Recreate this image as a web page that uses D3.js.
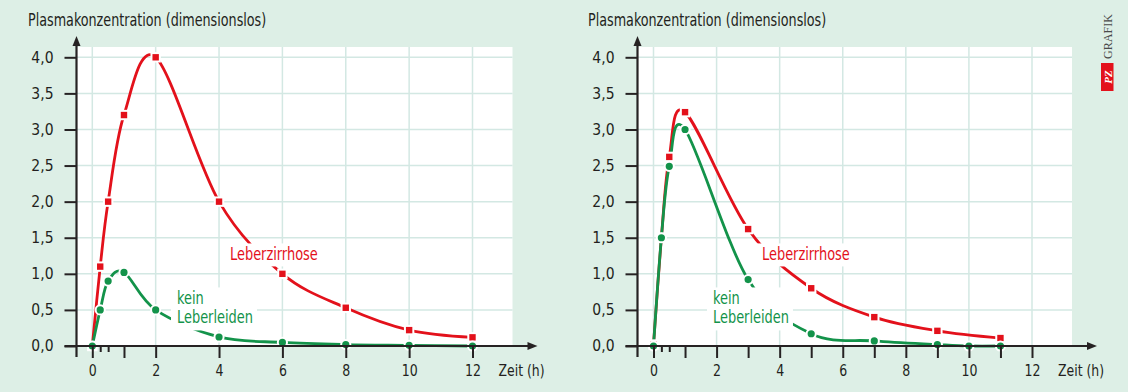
<!DOCTYPE html>
<html><head><meta charset="utf-8">
<script src="https://cdn.jsdelivr.net/npm/d3@7"></script>
<style>
body{margin:0;background:#ddefe6}
svg{display:block}
</style></head><body>
<svg id="c" width="1128" height="392"></svg>
<script>
// ---------- data ----------
const titleText = "Plasmakonzentration (dimensionslos)";
const xAxisLabel = "Zeit (h)";
const seriesNames = ["Leberzirrhose", "kein", "Leberleiden"];
const yTicks = [0, 0.5, 1, 1.5, 2, 2.5, 3, 3.5, 4];
const xGridHours = [0, 2, 4, 6, 8, 10, 12];
const xTickLabels = [0, 2, 4, 6, 8, 10, 12];
const minorTicks = [0.25, 0.5];
const leftMajorTicks = [0, 1, 2, 4, 6, 8, 10, 12];
const rightMajorTicks = [0, 1, 2, 3, 4, 5, 6, 7, 8, 9, 10, 11, 12];

// left panel
const leftHours = [0, 0.25, 0.5, 1, 2, 4, 6, 8, 10, 12];
const leftZirrhose = [0, 1.1, 2.0, 3.2, 4.0, 2.0, 1.0, 0.53, 0.22, 0.12];
const leftGesund = [0, 0.5, 0.9, 1.02, 0.5, 0.125, 0.05, 0.02, 0.01, 0.0];

// right panel
const rightHoursZ = [0, 0.25, 0.5, 1, 3, 5, 7, 9, 11];
const rightZirrhose = [0.02, 1.5, 2.62, 3.24, 1.62, 0.8, 0.4, 0.21, 0.11];
const rightHoursG = [0, 0.25, 0.5, 1, 3, 5, 7, 9, 10, 11];
const rightGesund = [0, 1.5, 2.49, 3.0, 0.92, 0.17, 0.07, 0.02, 0.0, 0.0];

// ---------- style ----------
const FONT = '"DejaVu Sans Condensed","Liberation Sans",sans-serif';
const RED = "#e3111b", GREEN = "#13934a", AXIS = "#262223", GRID = "#d3e8e3", BG = "#ddefe6", INK = "#231f20";
const svg = d3.select("#c");
svg.append("rect").attr("width", 1128).attr("height", 392).attr("fill", BG);

function ctext(parent, x, y, str, size, color, sx) {
  return parent.append("text").attr("transform", `translate(${x},${y}) scale(${sx},1)`)
    .style("font-family", FONT).attr("font-size", size).attr("fill", color).text(str);
}

function panel(cfg) {
  const g = svg.append("g");
  const x = d3.scaleLinear().domain([0, 12]).range([cfg.x0, cfg.x12]);
  const y = d3.scaleLinear().domain([0, 4]).range([346, 57.3]);
  const ax = cfg.axisX, right = cfg.x12 + 40, top = 47;

  ctext(g, cfg.titleX, 26, titleText, 17.5, INK, 0.81);

  g.append("rect").attr("x", ax).attr("y", top).attr("width", right - ax).attr("height", y(0) - top).attr("fill", "#fff");
  g.selectAll(".hg").data(yTicks.slice(1)).join("line")
    .attr("x1", ax).attr("x2", right).attr("y1", d => y(d)).attr("y2", d => y(d))
    .attr("stroke", GRID).attr("stroke-width", 1.5);
  g.selectAll(".vg").data(xGridHours).join("line")
    .attr("x1", d => x(d)).attr("x2", d => x(d)).attr("y1", top).attr("y2", y(0))
    .attr("stroke", GRID).attr("stroke-width", 1.5);

  const line = d3.line().x(d => x(d[0])).y(d => y(d[1])).curve(d3.curveCatmullRom.alpha(0));
  const zData = d3.zip(cfg.hz, cfg.z), gData = d3.zip(cfg.hg, cfg.gs);
  g.append("path").datum(zData).attr("d", line).attr("fill", "none").attr("stroke", RED).attr("stroke-width", 2.8);
  g.append("path").datum(gData).attr("d", line).attr("fill", "none").attr("stroke", GREEN).attr("stroke-width", 2.8);

  // labels with white backing
  const boxLayer = g.append("g");
  const mk = g.append("g");
  const textLayer = g.append("g");
  const SX = 0.8;
  const labels = [
    {t: seriesNames[0], x: cfg.zLabX, y: 260, c: RED},
    {t: seriesNames[1], x: cfg.gLabX, y: 304, c: GREEN},
    {t: seriesNames[2], x: cfg.gLabX, y: 323, c: GREEN}
  ];
  const texts = labels.map(l => ctext(textLayer, l.x, l.y, l.t, 18, l.c, SX));
  const bb = texts.map((t, i) => { const b = t.node().getBBox(); return {x: labels[i].x + b.x * SX, y: labels[i].y + b.y, w: b.width * SX, h: b.height}; });
  boxLayer.append("rect").attr("x", bb[0].x - 5).attr("y", bb[0].y).attr("width", bb[0].w + 10).attr("height", bb[0].h + 2).attr("fill", "#fff");
  const gw = Math.max(bb[1].w, bb[2].w);
  boxLayer.append("rect").attr("x", bb[1].x - 6).attr("y", bb[1].y).attr("width", gw + 10).attr("height", bb[2].y + bb[2].h - bb[1].y + 3).attr("fill", "#fff");

  // markers
  mk.selectAll(".sq").data(zData).join("rect")
    .attr("x", d => x(d[0]) - 4.2).attr("y", d => y(d[1]) - 4.2).attr("width", 8.4).attr("height", 8.4)
    .attr("fill", RED).attr("stroke", "#fff").attr("stroke-width", 2);
  mk.selectAll(".ci").data(gData).join("circle")
    .attr("cx", d => x(d[0])).attr("cy", d => y(d[1])).attr("r", 4.6)
    .attr("fill", GREEN).attr("stroke", "#fff").attr("stroke-width", 2);

  // axes
  const fmt = d => d3.format(".1f")(d).replace(".", ",");
  const yA = g.append("g").attr("transform", `translate(${ax},0)`)
    .call(d3.axisLeft(y).tickValues(yTicks).tickSize(12).tickPadding(11).tickFormat(fmt));
  const xA = g.append("g").attr("transform", `translate(0,${y(0)})`)
    .call(d3.axisBottom(x).tickValues(cfg.major).tickSize(12).tickPadding(7).tickFormat(d => xTickLabels.includes(d) ? d : ""));
  const xm = g.append("g").attr("transform", `translate(0,${y(0)})`)
    .call(d3.axisBottom(x).tickValues(minorTicks).tickSize(6).tickFormat(""));
  [yA, xA, xm].forEach(a => {
    a.select(".domain").remove();
    a.selectAll("line").attr("stroke", AXIS).attr("stroke-width", 2);
    a.selectAll("text").attr("font-size", 15.5).attr("fill", INK).style("font-family", FONT);
  });
  xA.selectAll("text").attr("transform", "scale(0.9,1)");
  // axis lines with arrows
  g.append("line").attr("x1", ax).attr("x2", ax).attr("y1", 357).attr("y2", 44).attr("stroke", AXIS).attr("stroke-width", 2.2);
  g.append("path").attr("d", `M${ax},36 L${ax - 4},46 L${ax + 4},46 Z`).attr("fill", AXIS);
  const tip = cfg.x12 + 65;
  g.append("line").attr("x1", ax - 12).attr("x2", tip - 6).attr("y1", y(0)).attr("y2", y(0)).attr("stroke", AXIS).attr("stroke-width", 2.2);
  g.append("path").attr("d", `M${tip},${y(0)} L${tip - 10},${y(0) - 4} L${tip - 10},${y(0) + 4} Z`).attr("fill", AXIS);
  ctext(g, cfg.x12 + 26, 376, xAxisLabel, 16.5, INK, 0.84);
}

panel({axisX: 76.5, x0: 92.3, x12: 472.5, titleX: 28, hz: leftHours, z: leftZirrhose, hg: leftHours, gs: leftGesund,
  major: leftMajorTicks, zLabX: 230, gLabX: 177});
panel({axisX: 637.5, x0: 653.5, x12: 1032, titleX: 588, hz: rightHoursZ, z: rightZirrhose, hg: rightHoursG, gs: rightGesund,
  major: rightMajorTicks, zLabX: 762, gLabX: 713});

// logo
const logo = svg.append("g");
logo.append("text").attr("transform", "translate(1112,59) rotate(-90)").attr("font-size", 13)
  .style("font-family", '"Liberation Serif","DejaVu Serif",serif').attr("fill", "#4a4a4a")
  .attr("textLength", 45).attr("lengthAdjust", "spacingAndGlyphs").text("GRAFIK");
logo.append("rect").attr("x", 1101).attr("y", 63).attr("width", 12.5).attr("height", 28).attr("fill", RED);
logo.append("text").attr("transform", "translate(1111.5,77) rotate(-90)").attr("text-anchor", "middle")
  .attr("font-size", 11).attr("font-weight", "bold").attr("font-style", "italic")
  .style("font-family", '"Liberation Serif","DejaVu Serif",serif').attr("fill", "#fff").text("PZ");
</script></body></html>
